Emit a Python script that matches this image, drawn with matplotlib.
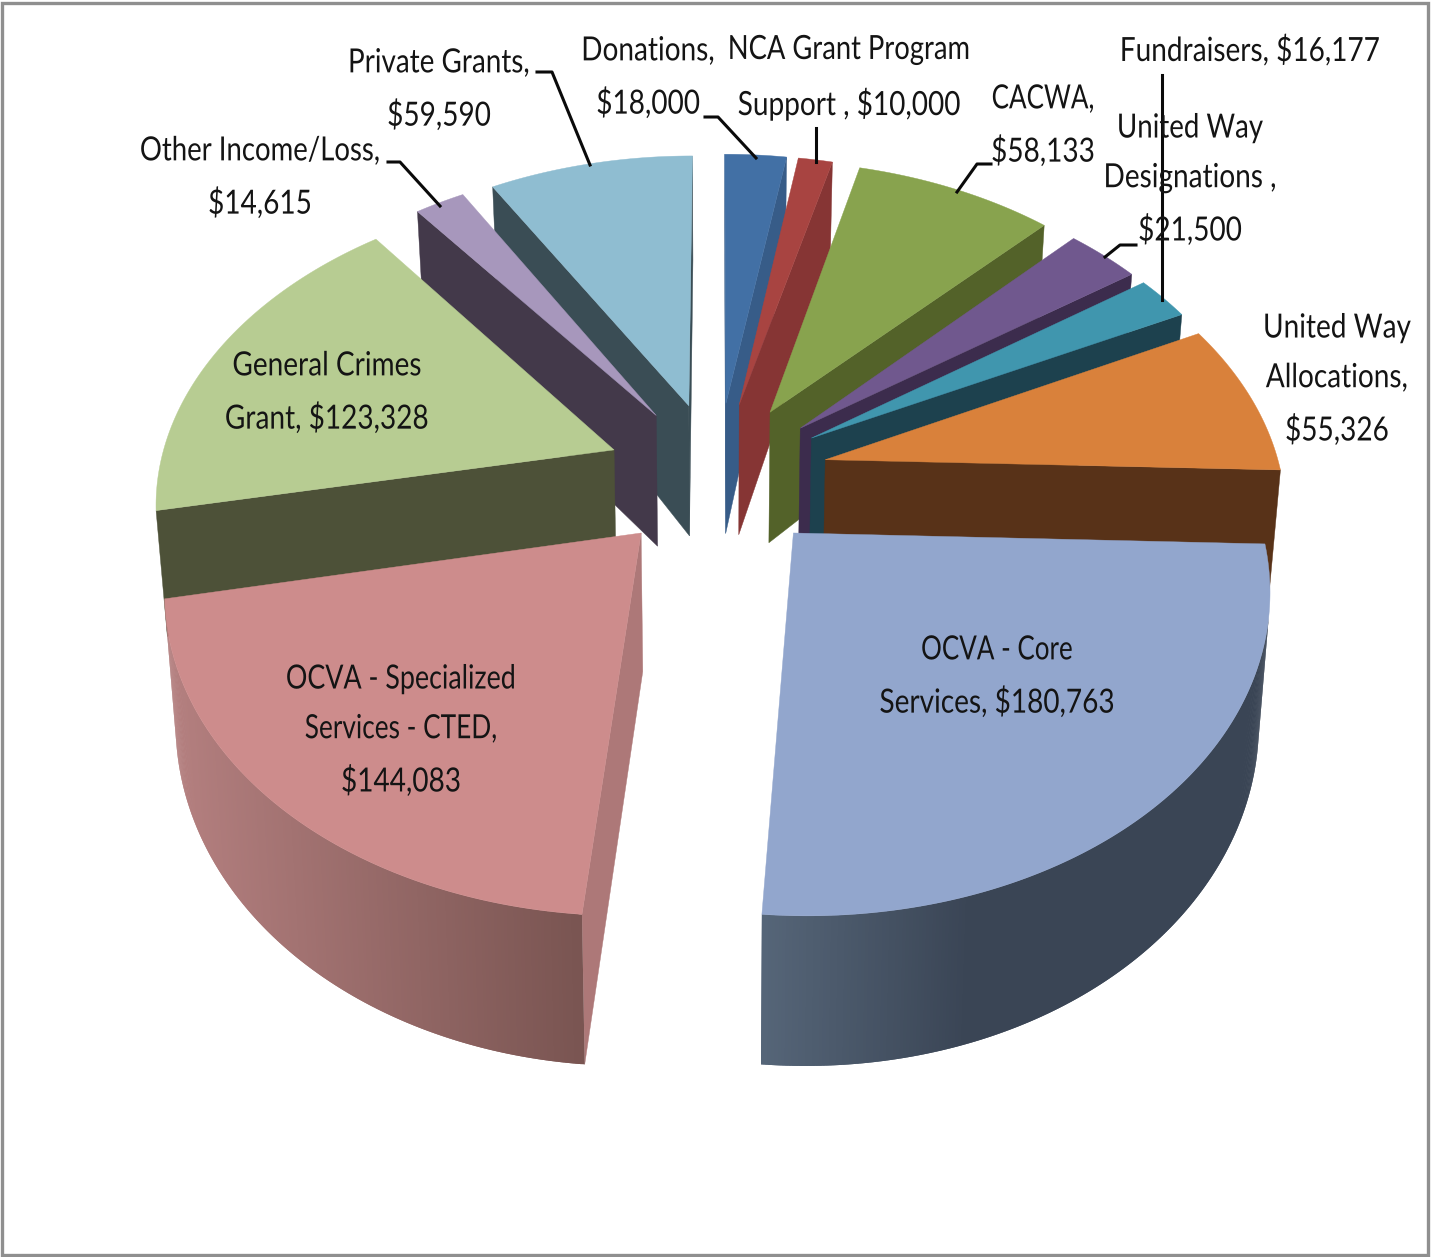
import numpy as np, matplotlib
matplotlib.use('Agg')
import matplotlib.pyplot as plt
from matplotlib.colors import to_rgb
from matplotlib.patches import Polygon, Rectangle
from matplotlib.patheffects import AbstractPathEffect
from matplotlib.transforms import Affine2D

# ---- data ----
categories = ['Donations', 'NCA Grant Program Support', 'CACWA', 'United Way Designations',
              'Fundraisers', 'United Way Allocations', 'OCVA - Core Services',
              'OCVA - Specialized Services - CTED', 'General Crimes Grant',
              'Other Income/Loss', 'Private Grants']
values = [18000, 10000, 58133, 21500, 16177, 55326, 180763, 144083, 123328, 14615, 59590]
label_texts = ['Donations,\n$18,000', 'NCA Grant Program\nSupport , $10,000', 'CACWA,\n$58,133',
               'United Way\nDesignations ,\n$21,500', 'Fundraisers, $16,177',
               'United Way\nAllocations,\n$55,326', 'OCVA - Core\nServices, $180,763',
               'OCVA - Specialized\nServices - CTED,\n$144,083', 'General Crimes\nGrant, $123,328',
               'Other Income/Loss,\n$14,615', 'Private Grants,\n$59,590']
top_colors = ['#4270a5', '#a84441', '#88a34e', '#70588e', '#4096ae', '#d9813b',
              '#92a6cd', '#cd8c8c', '#b7cc92', '#a797bc', '#8fbdd1']
wall_colors = ['#375c88', '#863534', '#536229', '#3c2c4d', '#1d414e', '#583218',
               '#3a4555', '#ad7878', '#4d5138', '#43394a', '#3a4d55']

# ---- layout of labels and leaders (pixels) ----
label_pos = [(648, 78), (849, 78), (1043, 126), (1190, 180), (1250, 51), (1337, 380),
             (997, 677), (401, 731), (327, 393), (260, 178), (439, 90)]
line_squeeze = [[.84, .84], [.82, .84], [.78, .84], [.83, .84, .84], [.84], [.84, .84, .84],
                [.78, .84], [.805, .787, .84], [.84, .84], [.826, .84], [.835, .84]]
leaders = [[(388, 162), (400, 162), (440, 206)], [(537, 72), (552, 72), (590, 165)],
           [(705, 117), (718, 117), (756, 158)], [(816, 128), (816, 162)],
           [(991, 164), (977, 164), (957, 192)], [(1136, 245), (1120, 245), (1105, 257)],
           [(1162, 75), (1162, 300)]]

# ---- perspective camera of the 3-D pie ----
CX, CY, FX, FY, DIST, PHI, THICK, EXPLODE = 717.23, 475.51, 3044.92, 67088.37, 6.6752, 0.0305, 0.0123, 0.2442
TAPER = 0.02
APEX_DEPTH = 1.09

v = np.array(values, float)
edges = np.concatenate([[0], np.cumsum(v)]) / v.sum() * 2 * np.pi


def project(X, Y, b):
    Z = -THICK * b
    z = DIST + Y * np.cos(PHI) - Z * np.sin(PHI)
    return (CX + FX * X / z * (1 - TAPER * b),
            CY - FY * (Y * np.sin(PHI) + Z * np.cos(PHI)) / z)


def mix(a, b, t):
    a, b = np.array(to_rgb(a)), np.array(to_rgb(b))
    return tuple(a + (b - a) * float(np.clip(t, 0, 1)))


def shoelace(q):
    q = np.asarray(q)
    x, y = q[:, 0], q[:, 1]
    return np.sum(x * np.roll(y, -1) - np.roll(x, -1) * y)


class Squeeze(AbstractPathEffect):
    """Narrow each text line horizontally about a fixed display x."""
    def __init__(self, cx, factors):
        super().__init__()
        self.cx, self.factors, self.n = cx, factors, 0

    def draw_path(self, renderer, gc, tpath, affine, rgbFace=None):
        sx = self.factors[self.n % len(self.factors)]
        self.n += 1
        a = affine + Affine2D().translate(-self.cx, 0).scale(sx, 1).translate(self.cx, 0)
        renderer.draw_path(gc, tpath, a, rgbFace)


fig = plt.figure(figsize=(14.32, 12.57), dpi=100)
ax = fig.add_axes([0, 0, 1, 1])
ax.set_xlim(0, 1432)
ax.set_ylim(1257, 0)
ax.axis('off')
ax.add_patch(Rectangle((2, 3), 1426, 1252, fill=False, ec='#8f8f8f', lw=2.4, zorder=0))


def wall_shade(i, px):
    """Shade of the curved wall, a left-to-right gradient on the page."""
    if categories[i].endswith('CTED'):
        return mix('#b58080', '#7a5552', (px - 175) / (583 - 175))
    if categories[i].endswith('Core Services'):
        return mix('#566679', '#3a4555', (px - 763) / (970 - 763))
    return wall_colors[i]


order = sorted(range(len(v)), key=lambda i: -np.cos((edges[i] + edges[i + 1]) / 2))
z = 2
for i in order:
    mid = (edges[i] + edges[i + 1]) / 2
    ox, oy = EXPLODE * np.sin(mid), EXPLODE * np.cos(mid)
    th = np.linspace(edges[i], edges[i + 1], max(3, int((edges[i + 1] - edges[i]) * 160)))
    X = ox + np.sin(th)
    Y = oy + np.cos(th)
    atop = project(ox, oy, 0)
    abot = project(ox, oy, APEX_DEPTH)
    top = np.column_stack(project(X, Y, 0))
    bot = np.column_stack(project(X, Y, 1))
    for a, b, c, d in [(atop, top[0], bot[0], abot), (top[-1], atop, abot, bot[-1])]:
        q = [a, b, c, d]
        if shoelace(q) < 0:
            ax.add_patch(Polygon(q, closed=True, fc=wall_colors[i], ec=wall_colors[i], lw=0.3, zorder=z))
    n = len(th)
    vis = [k for k in range(n - 1) if shoelace([top[k], top[k + 1], bot[k + 1], bot[k]]) < 0]
    # painted from the arc's end backwards so each strip overlaps the seam of its neighbour
    for k in sorted(vis, reverse=True):
        j = min(k + 2, n - 1)
        q = np.vstack([top[k:j + 1], bot[k:j + 1][::-1]])
        ax.add_patch(Polygon(q, closed=True, fc=wall_shade(i, bot[k, 0]), ec='none', zorder=z))
    ax.add_patch(Polygon(np.vstack([atop, top]), closed=True, fc=top_colors[i],
                         ec=top_colors[i], lw=0.3, zorder=z + 0.5))
    z += 1

for pts in leaders:
    xs, ys = zip(*pts)
    ax.plot(xs, ys, color='#0a0a0a', lw=2.2, solid_joinstyle='round', zorder=50)

for (x, y), s, f in zip(label_pos, label_texts, line_squeeze):
    t = ax.text(x, y, s, family='Lato', fontsize=24, color='#141414', ha='center', va='center',
                multialignment='center', linespacing=1.82, zorder=60)
    dx = ax.transData.transform((x, y))[0]
    t.set_path_effects([Squeeze(dx, f)])

fig.savefig('out.png', dpi=100)
